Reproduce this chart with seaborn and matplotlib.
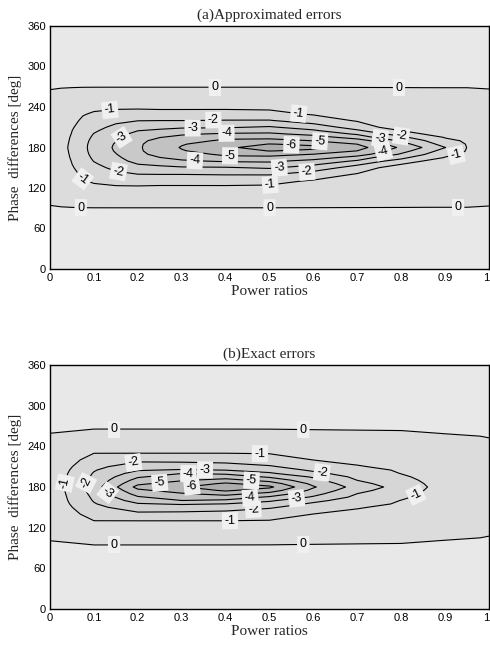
import numpy as np
import matplotlib
matplotlib.use("Agg")
import matplotlib.pyplot as plt
import seaborn as sns

# ---------------- data (errors in dB) ----------------
# phase offsets (deg) from 180 deg; the surface is symmetric about 180 deg
phase_offsets = [0, 5, 10, 15, 20, 25, 30, 40, 50, 60, 75, 90, 120, 180]

# (a) approximated errors: one list per power ratio, values at 180 +/- offset
power_ratios_a = [0, 0.025, 0.05, 0.075, 0.1, 0.15, 0.2, 0.25, 0.3, 0.4,
                  0.5, 0.6, 0.7, 0.75, 0.8, 0.85, 0.9, 0.95, 1.0]
errors_a = [
    [-0.2, -0.2, -0.2, -0.2, -0.2, -0.2, -0.2, -0.18, -0.15, -0.1, -0.05, 0.02, 0.25, 0.5],
    [-0.68, -0.68, -0.67, -0.66, -0.64, -0.62, -0.6, -0.52, -0.42, -0.32, -0.12, 0.02, 0.25, 0.5],
    [-1.2, -1.16, -1.12, -1.08, -1.03, -0.99, -0.91, -0.75, -0.6, -0.44, -0.21, 0.02, 0.25, 0.5],
    [-1.8, -1.78, -1.74, -1.68, -1.6, -1.5, -1.38, -1.15, -0.93, -0.7, -0.35, 0.02, 0.25, 0.5],
    [-2.3, -2.28, -2.22, -2.13, -2.03, -1.88, -1.72, -1.41, -1.09, -0.81, -0.41, 0.02, 0.25, 0.5],
    [-3.15, -3.09, -2.96, -2.78, -2.59, -2.41, -2.22, -1.79, -1.26, -0.86, -0.43, 0.02, 0.25, 0.5],
    [-3.87, -3.85, -3.75, -3.6, -3.35, -2.98, -2.64, -1.97, -1.32, -0.86, -0.43, 0.02, 0.25, 0.5],
    [-4.5, -4.45, -4.3, -3.98, -3.57, -3.16, -2.77, -1.99, -1.29, -0.83, -0.42, 0.02, 0.25, 0.5],
    [-5.07, -4.93, -4.59, -4.26, -3.88, -3.37, -2.88, -1.99, -1.29, -0.83, -0.42, 0.02, 0.25, 0.5],
    [-5.88, -5.54, -5.2, -4.75, -4.13, -3.5, -2.91, -2.04, -1.3, -0.83, -0.42, 0.02, 0.25, 0.5],
    [-6.3, -6.03, -5.36, -4.72, -4.17, -3.63, -3.11, -2.05, -1.24, -0.81, -0.41, 0.02, 0.25, 0.5],
    [-6.2, -5.83, -4.99, -4.38, -3.75, -3.13, -2.56, -1.5, -0.89, -0.67, -0.33, 0.02, 0.25, 0.5],
    [-5.4, -4.99, -4.38, -3.67, -2.86, -2.14, -1.56, -0.91, -0.73, -0.55, -0.27, 0.02, 0.25, 0.5],
    [-4.57, -4.25, -3.75, -2.75, -2.13, -1.56, -0.99, -0.83, -0.67, -0.5, -0.25, 0.02, 0.25, 0.5],
    [-3.85, -3.38, -2.88, -2.25, -1.63, -0.99, -0.92, -0.77, -0.62, -0.46, -0.23, 0.02, 0.25, 0.5],
    [-2.95, -2.52, -2.09, -1.5, -0.99, -0.91, -0.84, -0.7, -0.55, -0.41, -0.2, 0.02, 0.25, 0.5],
    [-2.02, -1.6, -1.17, -0.96, -0.9, -0.83, -0.77, -0.64, -0.51, -0.38, -0.19, 0.02, 0.25, 0.5],
    [-0.98, -0.95, -0.92, -0.88, -0.84, -0.79, -0.74, -0.63, -0.51, -0.38, -0.19, 0.02, 0.25, 0.5],
    [-0.12, -0.12, -0.12, -0.12, -0.12, -0.11, -0.11, -0.1, -0.09, -0.08, -0.07, 0.02, 0.25, 0.5],
]

# (b) exact errors
power_ratios_b = [0, 0.1, 0.2, 0.3, 0.4, 0.5, 0.6, 0.7, 0.8, 0.9, 1.0]
errors_b = [
    [-0.3, -0.3, -0.29, -0.28, -0.27, -0.25, -0.23, -0.18, -0.13, -0.08, -0.02, 0.05, 0.4, 0.6],
    [-2.5, -2.39, -2.28, -2.17, -2.07, -1.93, -1.74, -1.37, -0.99, -0.72, -0.3, 0.13, 0.4, 0.6],
    [-5.3, -4.82, -4.36, -3.9, -3.4, -2.92, -2.54, -1.77, -0.99, -0.72, -0.3, 0.13, 0.4, 0.6],
    [-5.9, -5.4, -4.91, -4.45, -3.99, -3.09, -2.57, -1.71, -0.99, -0.72, -0.3, 0.13, 0.4, 0.6],
    [-6.9, -6.15, -5.33, -4.57, -3.83, -2.98, -2.44, -1.63, -0.99, -0.72, -0.3, 0.13, 0.4, 0.6],
    [-6.2, -5.5, -4.67, -3.86, -3.14, -2.6, -2.1, -1.47, -0.95, -0.68, -0.29, 0.13, 0.4, 0.6],
    [-4.1, -3.75, -3.33, -2.88, -2.25, -1.83, -1.56, -0.99, -0.78, -0.56, -0.23, 0.13, 0.4, 0.6],
    [-2.6, -2.3, -1.99, -1.76, -1.52, -1.29, -1.05, -0.83, -0.65, -0.47, -0.19, 0.13, 0.4, 0.6],
    [-1.6, -1.44, -1.28, -1.13, -0.98, -0.91, -0.83, -0.68, -0.53, -0.38, -0.16, 0.13, 0.4, 0.6],
    [-0.6, -0.59, -0.57, -0.54, -0.5, -0.46, -0.42, -0.33, -0.24, -0.16, -0.04, 0.13, 0.4, 0.6],
    [-0.2, -0.2, -0.19, -0.18, -0.17, -0.16, -0.15, -0.12, -0.09, -0.05, 0.01, 0.13, 0.4, 0.6],
]

line_levels = [-6, -5, -4, -3, -2, -1, 0]
fill_levels = [-7, -6, -5, -4, -3, -2, -1, 0, 1]
x_ticks = [0, 0.1, 0.2, 0.3, 0.4, 0.5, 0.6, 0.7, 0.8, 0.9, 1]
x_tick_labels = ["0", "0.1", "0.2", "0.3", "0.4", "0.5", "0.6", "0.7", "0.8", "0.9", "1"]
y_ticks = [0, 60, 120, 180, 240, 300, 360]
titles = ["(a)Approximated errors", "(b)Exact errors"]

# label positions (layout)
label_pos_a = [(0.375, 270), (0.795, 270), (0.07, 90), (0.5, 90), (0.93, 90),
               (0.137, 233), (0.566, 228), (0.072, 132), (0.501, 128), (0.926, 167),
               (0.372, 221), (0.156, 144), (0.585, 146), (0.80, 198),
               (0.16, 198), (0.325, 207), (0.522, 153), (0.752, 194),
               (0.402, 200), (0.33, 160), (0.759, 175),
               (0.41, 165), (0.615, 191), (0.55, 185)]
label_pos_b = [(0.146, 265), (0.577, 265), (0.146, 94.5), (0.577, 94.5),
               (0.038, 185), (0.478, 228), (0.41, 130), (0.835, 166),
               (0.082, 186), (0.19, 216), (0.619, 200), (0.463, 149),
               (0.133, 173), (0.353, 204), (0.562, 161),
               (0.315, 200), (0.456, 164),
               (0.25, 186), (0.459, 190), (0.323, 181)]

band_colors = ["#adadad", "#b8b8b8", "#c2c2c2", "#c9c9c9", "#d0d0d0",
               "#d6d6d6", "#dcdcdc", "#e8e8e8"]

# ---------------- style ----------------
sns.set_theme(style="ticks")
plt.rcParams["font.family"] = ["Liberation Serif", "DejaVu Serif"]
plt.rcParams["contour.negative_linestyle"] = "solid"

d = np.array(phase_offsets, float)
phi = np.concatenate([180 - d[::-1], 180 + d[1:]])


def full_grid(cols):
    half = np.array(cols, float).T
    return np.vstack([half[::-1], half[1:]])


fig = plt.figure(figsize=(4.9, 6.48), dpi=100)
ax_a = fig.add_axes([50 / 490, 1 - 269 / 648, 439 / 490, 243 / 648])
ax_b = fig.add_axes([50 / 490, 1 - 609 / 648, 439 / 490, 244 / 648])

panels = [(ax_a, power_ratios_a, errors_a, label_pos_a, titles[0]),
          (ax_b, power_ratios_b, errors_b, label_pos_b, titles[1])]

for ax, rr, errs, lpos, title in panels:
    R, P = np.meshgrid(np.array(rr, float), phi)
    Z = full_grid(errs)
    ax.contourf(R, P, Z, levels=fill_levels, colors=band_colors)
    cs = ax.contour(R, P, Z, levels=line_levels, colors="black",
                    linewidths=0.8, linestyles="solid")
    ax.set_xlim(0, 1)
    ax.set_ylim(0, 360)
    labels = ax.clabel(cs, manual=lpos, inline=True, inline_spacing=3,
                       fmt=lambda v: f"{v:.0f}", fontsize=9)
    for t in labels:
        t.set_family(["Liberation Sans", "DejaVu Sans"])
        t.set_bbox(dict(boxstyle="square,pad=0.2", fc="#f0f0f0", ec="none"))
    ax.set_xticks(x_ticks)
    ax.set_xticklabels(x_tick_labels)
    ax.set_yticks(y_ticks)
    ax.set_yticklabels([str(v) for v in y_ticks])
    ax.tick_params(direction="in", top=True, right=True, length=3.5, width=0.7,
                   labelsize=8, pad=3, colors="black")
    for lab in ax.get_xticklabels() + ax.get_yticklabels():
        lab.set_family(["Liberation Sans", "DejaVu Sans"])
    ax.get_xticklabels()[-1].set_horizontalalignment("right")
    for sp in ax.spines.values():
        sp.set_linewidth(1.0)
        sp.set_color("black")
    ax.set_title(title, fontsize=11, pad=5)
    ax.set_xlabel("Power ratios", fontsize=11, labelpad=1)
    ax.set_ylabel("Phase  differences [deg]", fontsize=11, labelpad=4)

fig.savefig("out.png", dpi=100)
